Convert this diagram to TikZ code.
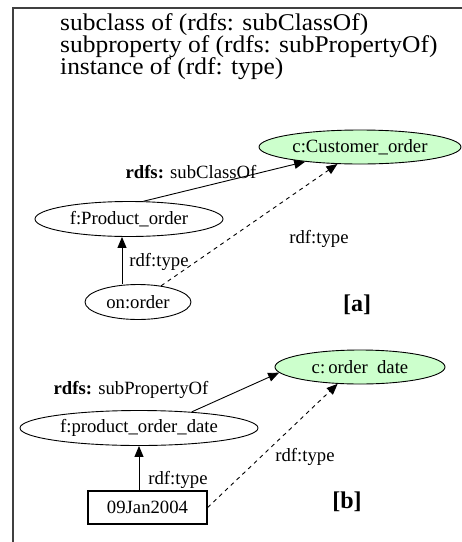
\documentclass[tikz,border=0pt]{standalone}
\usepackage{fontspec}
\setmainfont{Liberation Serif}
\newfontfamily\titlefont[FakeStretch=1.06]{Liberation Serif}
\usetikzlibrary{arrows.meta,shapes.geometric}
\definecolor{lgreen}{HTML}{CCFFCC}
\definecolor{framegray}{HTML}{404040}
\begin{document}
\begin{tikzpicture}[x=1pt,y=-1pt,
  ell/.style={ellipse,draw,line width=0.9pt,inner sep=0pt,font=\fontsize{18.7}{19}\selectfont},
  gell/.style={ell,fill=lgreen},
  lbl/.style={inner sep=0pt,font=\fontsize{18.7}{19}\selectfont},
  ttl/.style={anchor=base west,inner sep=0pt,text height=15pt,text depth=5pt,font=\titlefont\fontsize{24}{24}\selectfont},
  tag/.style={inner sep=0pt,font=\fontsize{24}{24}\selectfont\bfseries},
  arr/.style={-{Triangle[length=11pt,width=9pt]},line width=0.9pt},
  darr/.style={arr,dash pattern=on 4pt off 4pt}]
\useasboundingbox (0,0) rectangle (462,542);
\draw[framegray,line width=2pt] (12.5,542) -- (12.5,7.5) -- (462,7.5);
\node[ttl] (t1) at (60,30) {subclass of (rdfs: subClassOf)};
\node[ttl] (t2) at (60,52) {subproperty of (rdfs: subPropertyOf)};
\node[ttl] (t3) at (60,74) {instance of (rdf: type)};
% [a]
\node[gell,minimum width=202pt,minimum height=34pt] (cust) at (360,147) {c:Customer\_order};
\node[ell,minimum width=188pt,minimum height=35pt] (prod) at (129,219) {f:Product\_order};
\node[ell,minimum width=106pt,minimum height=35pt] (onorder) at (138,302) {on:order};
\node[lbl] (l1) at (191,172) {\textbf{rdfs:} subClassOf};
\node[lbl] (l2) at (319,239) {rdf:type};
\node[lbl] (l3) at (159,262) {rdf:type};
\node[tag] (ta) at (357,305) {[a]};
\coordinate (va) at (122,0);
\draw[arr] (prod.51) -- (cust.195);
\draw[arr] (va |- onorder.north) -- (va |- prod.south);
\draw[darr] (onorder.35) -- (cust.217);
% [b]
\node[gell,minimum width=170pt,minimum height=34pt] (cdate) at (360,367) {c:\,order~~date};
\node[ell,minimum width=238pt,minimum height=35pt] (fpod) at (139,428) {f:product\_order\_date};
\node[draw,line width=1.2pt,minimum width=119pt,minimum height=33pt,inner sep=0pt,font=\fontsize{18.7}{19}\selectfont] (date) at (147.5,507.5) {09Jan2004};
\node[lbl] (l4) at (131,390) {\textbf{rdfs:} subPropertyOf};
\node[lbl] (l5) at (305,457) {rdf:type};
\node[lbl] (l6) at (178,480) {rdf:type};
\node[tag] (tb) at (347,502) {[b]};
\draw[arr] (fpod.17) -- (cdate.184);
\draw[arr] (date.north -| fpod.south) -- (fpod.south);
\draw[darr] (date.east) -- (cdate.217);
\end{tikzpicture}
\end{document}
